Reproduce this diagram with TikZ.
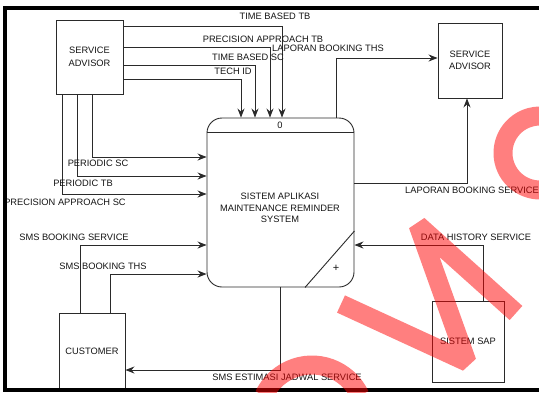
\documentclass[tikz,border=0pt]{standalone}
\usepackage{fontspec}
\newfontfamily\arial{Liberation Sans}
\usetikzlibrary{arrows.meta}
\definecolor{linec}{HTML}{2A2A2A}
\definecolor{textc}{HTML}{151515}
\begin{document}
\begin{tikzpicture}[x=1pt,y=-1pt,
  every node/.style={font=\arial\fontsize{9.3}{12.5}\selectfont, text=textc},
  box/.style={draw=linec, line width=0.9pt, align=center, inner sep=0pt},
  flow/.style={draw=linec, line width=0.9pt, -{Stealth[length=9pt,width=7pt,inset=3pt]}},
  plain/.style={draw=linec, line width=0.9pt},
  lbl/.style={inner sep=0pt},
  wm/.style={draw=red, opacity=0.5, line width=19pt, line join=bevel}]
\useasboundingbox (0,0) rectangle (539,392);
\fill[white] (0,0) rectangle (539,392);

% boxes
\node[box, minimum width=67pt, minimum height=74pt] (sa) at (89.5,57) {SERVICE\\ADVISOR};
\node[box, minimum width=64pt, minimum height=75pt] (sa2) at (470,60.5) {SERVICE\\ADVISOR};
\node[box, minimum width=66pt, minimum height=77pt] (cust) at (92,351.5) {CUSTOMER};
\node[box, minimum width=72pt, minimum height=81pt] (sap) at (468,341.5) {SISTEM SAP};

% process
\node[box, rounded corners=15pt, minimum width=147pt, minimum height=169pt] (proc) at (280.5,202.5) {};
\node[lbl, align=center, font=\arial\fontsize{9.3}{11.3}\selectfont] (proctext) at (280,208) {SISTEM APLIKASI\\MAINTENANCE REMINDER\\SYSTEM};
\node[lbl] (pid) at (280,125) {0};
\node[lbl, font=\arial\fontsize{11}{12}\selectfont] (plus) at (336,268) {+};
\draw[plain] (proc.west |- 0,132) -- (proc.east |- 0,132);
\draw[plain] (proc.east |- 0,231) -- (proc.south -| 305,0);

% flows
\draw[flow] (sa.east |- 0,26) -| (proc.north -| 282,0);
\draw[flow] (sa.east |- 0,47) -| (proc.north -| 270,0);
\draw[flow] (sa.east |- 0,65) -| (proc.north -| 255,0);
\draw[flow] (sa.east |- 0,79) -| (proc.north -| 241,0);
\draw[flow] (sa.south -| 92,0) |- (proc.west |- 0,157);
\draw[flow] (sa.south -| 77,0) |- (proc.west |- 0,176);
\draw[flow] (sa.south -| 62,0) |- (proc.west |- 0,194);
\draw[flow] (cust.north -| 80,0) |- (proc.west |- 0,245);
\draw[flow] (cust.north -| 110,0) |- (proc.west |- 0,274);
\draw[flow] (proc.south -| 280,0) |- (cust.east |- 0,370);
\draw[flow] (proc.north -| 336,0) |- (sa2.west |- 0,58);
\draw[flow] (proc.east |- 0,183) -| (sa2.south -| 467,0);
\draw[flow] (sap.north -| 483,0) |- (proc.east |- 0,245);

% labels
\node[lbl] (l1) at (275,16) {TIME BASED TB};
\node[lbl] (l2) at (263,39) {PRECISION APPROACH TB};
\node[lbl] (l3) at (328,48) {LAPORAN BOOKING THS};
\node[lbl] (l4) at (248,57) {TIME BASED SC};
\node[lbl] (l5) at (233,71) {TECH ID};
\node[lbl] (l6) at (98,163) {PERIODIC SC};
\node[lbl] (l7) at (83,183) {PERIODIC TB};
\node[lbl] (l8) at (65,202) {PRECISION APPROACH SC};
\node[lbl] (l9) at (74,237) {SMS BOOKING SERVICE};
\node[lbl] (l10) at (103,266) {SMS BOOKING THS};
\node[lbl] (l11) at (287,377) {SMS ESTIMASI JADWAL SERVICE};
\node[lbl, anchor=west] (l12) at (405,190) {LAPORAN BOOKING SERVICE};
\node[lbl] (l13) at (476,237) {DATA HISTORY SERVICE};

% frame
\draw[line width=4pt, black] (539,8) -- (5,8) -- (5,390) -- (539,390);

% watermark
\begin{scope}
\clip (0,0) rectangle (539,392);
\draw[wm] (341,304) -- (467,362) -- (418,225) -- (516,313);
\draw[wm] (312,418) ++(-25:53) arc[start angle=-25, end angle=-155, radius=53];
\draw[wm] (540,153) ++(60:37) arc[start angle=60, end angle=300, radius=37];
\end{scope}
\end{tikzpicture}
\end{document}
